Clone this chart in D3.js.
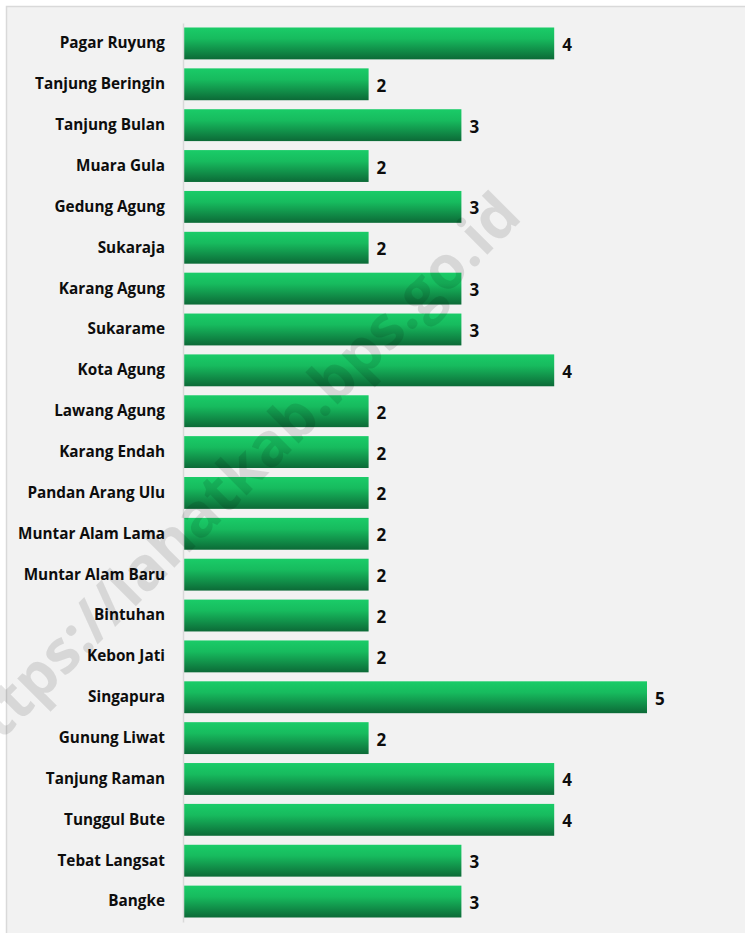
<!DOCTYPE html>
<html><head><meta charset="utf-8">
<script src="https://cdn.jsdelivr.net/npm/d3@7/dist/d3.min.js"></script>
<style>html,body{margin:0;padding:0;background:#fff;}svg{display:block;}</style>
</head><body>
<script>
const categories = ["Pagar Ruyung","Tanjung Beringin","Tanjung Bulan","Muara Gula","Gedung Agung","Sukaraja","Karang Agung","Sukarame","Kota Agung","Lawang Agung","Karang Endah","Pandan Arang Ulu","Muntar Alam Lama","Muntar Alam Baru","Bintuhan","Kebon Jati","Singapura","Gunung Liwat","Tanjung Raman","Tunggul Bute","Tebat Langsat","Bangke"];
const values = [4,2,3,2,3,2,3,3,4,2,2,2,2,2,2,2,5,2,4,4,3,3];
const watermark = "https://lahatkab.bps.go.id";

const W = 745, H = 933;
const svg = d3.select("body").append("svg").attr("width", W).attr("height", H);

const defs = svg.append("defs");
const grad = defs.append("linearGradient").attr("id","barGrad").attr("x1",0).attr("y1",0).attr("x2",0).attr("y2",1);
grad.append("stop").attr("offset","0%").attr("stop-color","#1acc68");
grad.append("stop").attr("offset","35%").attr("stop-color","#17bb5e");
grad.append("stop").attr("offset","100%").attr("stop-color","#0c6a37");

svg.append("rect").attr("x",6.5).attr("y",6.5).attr("width",W+10).attr("height",H+10)
  .attr("fill","#f2f2f2").attr("stroke","#d9d9d9").attr("stroke-width",1.5);

const x = d3.scaleLinear().domain([0,5]).range([183,647]);
const y = d3.scaleBand().domain(categories).range([23,922]).paddingInner(0.22).paddingOuter(0.11);

const font = "'Open Sans', Lato, sans-serif";

// bars
svg.append("g").selectAll("rect").data(categories).join("rect")
  .attr("x", x(0)).attr("y", d => y(d))
  .attr("width", (d,i) => x(values[i]) - x(0)).attr("height", y.bandwidth())
  .attr("fill","url(#barGrad)");

// axis line
const yAxis = d3.axisLeft(y).tickSize(0).tickPadding(18);
const ag = svg.append("g").attr("transform",`translate(${x(0)},0)`).call(yAxis);
ag.select(".domain").attr("stroke","#d9d9d9").attr("stroke-width",1.5);
ag.selectAll("text").attr("font-family",font).attr("font-weight","700")
  .attr("font-size","15.3px").attr("fill","#0d0d0d");

// value labels
svg.append("g").selectAll("text").data(categories).join("text")
  .attr("x",(d,i)=>x(values[i])+8).attr("y",d=>y(d)+y.bandwidth()/2+1)
  .attr("dominant-baseline","central")
  .attr("font-family",font).attr("font-weight","700")
  .attr("font-size","17px").attr("fill","#0d0d0d")
  .text((d,i)=>values[i]);

// watermark
svg.append("text").attr("transform","translate(248,494) rotate(-45)")
  .attr("text-anchor","middle")
  .attr("font-family",font).attr("font-weight","700")
  .attr("font-size","60px").attr("fill","rgba(0,0,0,0.11)")
  .attr("textLength",780).attr("lengthAdjust","spacingAndGlyphs")
  .text(watermark);
</script>
</body></html>
